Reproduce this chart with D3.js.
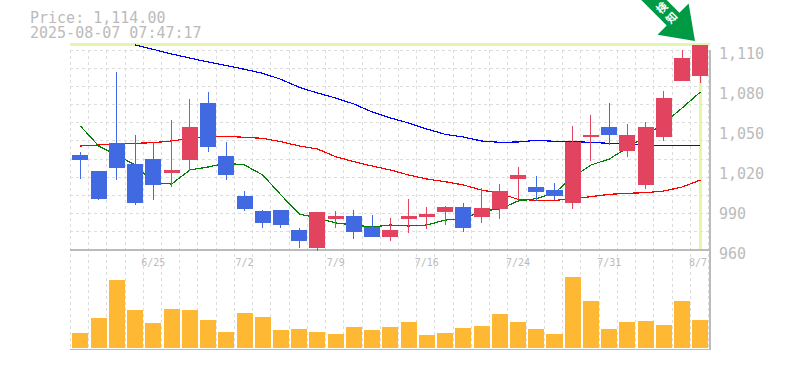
<!DOCTYPE html>
<html>
<head>
<meta charset="utf-8">
<script src="https://cdnjs.cloudflare.com/ajax/libs/d3/7.8.5/d3.min.js"></script>
<style>
html, body { margin: 0; padding: 0; background: #fff; }
svg { display: block; }
text { font-family: "DejaVu Sans Mono", monospace; fill: #bbb; }
</style>
</head>
<body>
<div id="chart"></div>
<script>
// Values
const dates = ["6/19","6/20","6/23","6/24","6/25","6/26","6/27","6/30","7/1","7/2","7/3","7/4","7/7","7/8","7/9","7/10","7/11","7/14","7/15","7/16","7/17","7/18","7/22","7/23","7/24","7/25","7/28","7/29","7/30","7/31","8/1","8/4","8/5","8/6","8/7"];
const tickDates = ["6/25","7/2","7/9","7/16","7/24","7/31","8/7"];
const priceTicks = [960, 990, 1020, 1050, 1080, 1110];

const opens = [1031.25,1019.25,1040.25,1024.5,1028.25,1017.75,1027.5,1070.25,1030.5,1000.5,989.25,990,975,961.5,983.25,985.5,977.25,969.75,983.25,984.75,988.5,992.25,984.75,990.75,1013.25,1007.25,1005,995.25,1044.75,1052.25,1034.25,1008.75,1044.75,1086.75,1090.5];
const highs = [1033.5,1019.25,1093.5,1046.25,1041,1057.5,1073.25,1078.5,1041,1004.25,990,990,976.5,988.5,989.25,990,986.25,984,998.25,992.25,993,995.25,1006.5,1009.5,1022.25,1015.5,1010.25,1053,1061.25,1070.25,1054.5,1056,1079.25,1110,1114];
const lows = [1013.25,997.5,1012.5,993.75,997.5,1007.25,1019.25,1033.5,1012.5,989.25,976.5,976.5,961.5,959.25,976.5,968.25,969.75,966.75,972.75,975.75,978.75,973.5,980.25,983.25,997.5,996.75,997.5,990.75,1026.75,1038.75,1029.75,1005.75,1041.75,1086.75,1085.25];
const closes = [1027.5,998.25,1021.5,995.25,1008.75,1020,1052.25,1037.25,1016.25,990.75,980.25,978.75,966.75,988.5,985.5,973.5,969.75,975,985.5,987,992.25,976.5,991.5,1004.25,1016.25,1003.5,1000.5,1041,1046.25,1046.25,1046.25,1052.25,1074,1104,1114];
const volumes = [15,30,68,38,25,39,38,28,16,35,31,18,19,16,14,21,18,21,26,13,15,20,22,34,26,19,14,71,47,19,26,27,23,47,28];

const maShort = [1053,1038,1031.25,1023.75,1010.25,1009.5,1020,1022.25,1025.25,1023.75,1016.25,1001.25,987,984,980.25,978.75,977.25,978.75,978,978.75,982.5,983.25,989.25,990.75,996.75,998.5,1002.75,1014.75,1023.75,1028.25,1036.5,1045.5,1055.25,1066.5,1078.5];
const maMid = [1038,1038.75,1039.5,1040,1040.5,1041.75,1043.75,1045.25,1045.25,1044.5,1043.75,1041.25,1038,1035.75,1030,1026.25,1023,1020,1016.25,1013.25,1011.25,1008.75,1005,1002.5,998,997.25,997.25,998.25,1000,1001.75,1002.5,1003,1004.25,1007.25,1012.5];
const maLong = [null,null,null,1113.75,1110.5,1107,1104,1101,1098.4,1095.5,1092.5,1088,1082,1077.75,1074,1069.5,1063.5,1059,1055.25,1050.75,1046.75,1044.75,1041.75,1040.75,1041,1042.25,1041.5,1041.25,1040.75,1040,1040,1038.5,1038.5,1038.5,1038.5];

const titleLines = ["Price: 1,114.00", "2025-08-07 07:47:17"];
const arrowLabel = ["検", "知"];

const svg = d3.select("#chart").append("svg")
    .attr("width", 785)
    .attr("height", 370);

// Scales
const x = d3.scaleBand().domain(d3.range(dates.length)).range([71.3, 709.5]).paddingInner(0.12).paddingOuter(0.06);
const xGrid = d3.range(dates.length + 1).map(i => 70.3 + i * 638.2 / dates.length);
const y = d3.scaleLinear().domain([960, 1110]).range([250, 50]);
const yVol = d3.scaleLinear().domain([0, 100]).range([348, 248]);
const cx = i => x(i) + x.bandwidth() / 2;

// Grid
const grid = svg.append("g")
    .attr("stroke", "#ddd")
    .attr("stroke-dasharray", "3,3")
    .attr("shape-rendering", "crispEdges");
grid.selectAll("line.v").data(xGrid).join("line")
    .attr("class", "v")
    .attr("x1", d => d).attr("x2", d => d)
    .attr("y1", 50).attr("y2", 349);
grid.selectAll("line.h").data(d3.range(0, 11)).join("line")
    .attr("class", "h")
    .attr("x1", 70).attr("x2", 710)
    .attr("y1", d => 50 + d * 200 / 11).attr("y2", d => 50 + d * 200 / 11);

// Panel borders
const frame = svg.append("g").attr("stroke", "#bbb").attr("stroke-width", 1.5).attr("shape-rendering", "crispEdges");
frame.append("line").attr("x1", 70).attr("x2", 710).attr("y1", 250).attr("y2", 250);
frame.append("line").attr("x1", 70).attr("x2", 710).attr("y1", 349.5).attr("y2", 349.5);
frame.append("line").attr("x1", 710).attr("x2", 710).attr("y1", 50).attr("y2", 350);

// Last price crosshair
const cross = svg.append("g").attr("fill", "#e3f6a9");
cross.append("rect").attr("x", 70).attr("y", 43).attr("width", 640).attr("height", 3);
cross.append("rect").attr("x", cx(34) - 1.5).attr("y", 43).attr("width", 3).attr("height", 206);

// Moving averages
const line = d3.line().defined(d => d !== null).x((d, i) => cx(i)).y(d => y(d));
[[maLong, "#0000ff"], [maMid, "#ff0000"], [maShort, "#008000"]].forEach(([vals, col]) => {
    svg.append("path")
        .attr("d", line(vals))
        .attr("fill", "none")
        .attr("stroke", col)
        .attr("stroke-width", 1.2)
        .attr("shape-rendering", "crispEdges");
});

// Candles
const upColor = "#e2435f", downColor = "#4169e1";
const candles = svg.append("g").attr("shape-rendering", "crispEdges");
dates.forEach((d, i) => {
    const col = closes[i] >= opens[i] ? upColor : downColor;
    candles.append("line")
        .attr("x1", cx(i)).attr("x2", cx(i))
        .attr("y1", y(highs[i])).attr("y2", y(lows[i]))
        .attr("stroke", col);
    candles.append("rect")
        .attr("x", x(i))
        .attr("y", y(Math.max(opens[i], closes[i])))
        .attr("width", x.bandwidth())
        .attr("height", Math.abs(y(opens[i]) - y(closes[i])))
        .attr("fill", col);
});

// Volume
svg.append("g").selectAll("rect").data(volumes).join("rect")
    .attr("x", (d, i) => x(i))
    .attr("y", d => yVol(d))
    .attr("width", x.bandwidth())
    .attr("height", d => yVol(0) - yVol(d))
    .attr("fill", "#ffb833")
    .attr("shape-rendering", "crispEdges");

// Axis labels
svg.append("g").selectAll("text").data(priceTicks).join("text")
    .attr("x", 719)
    .attr("y", d => y(d) + 9)
    .attr("font-size", 15)
    .text(d => d3.format(",")(d));

svg.append("g").selectAll("text").data(tickDates).join("text")
    .attr("x", d => Math.min(cx(dates.indexOf(d)), 698))
    .attr("y", 266)
    .attr("text-anchor", "middle")
    .attr("font-size", 10)
    .text(d => d);

// Title, one text element with a line per tspan
svg.append("text")
    .attr("font-size", 15)
    .selectAll("tspan").data(titleLines).join("tspan")
    .attr("x", 30)
    .attr("y", (d, i) => 23 + i * 14.5)
    .text(d => d);

// Signal arrow
const arrow = svg.append("g").attr("transform", "translate(695,41) rotate(-45)");
arrow.append("path")
    .attr("d", "M0,0 L-22,-31 L-9,-31 L-9,-72 L9,-72 L9,-31 L22,-31 Z")
    .attr("fill", "#009944");
arrow.selectAll("text").data(arrowLabel).join("text")
    .attr("x", 0)
    .attr("y", (d, i) => -43 + i * 14)
    .attr("text-anchor", "middle")
    .attr("font-size", 11)
    .attr("font-weight", "bold")
    .style("font-family", '"Noto Sans CJK JP"')
    .style("fill", "#fff")
    .text(d => d);
</script>
</body>
</html>
